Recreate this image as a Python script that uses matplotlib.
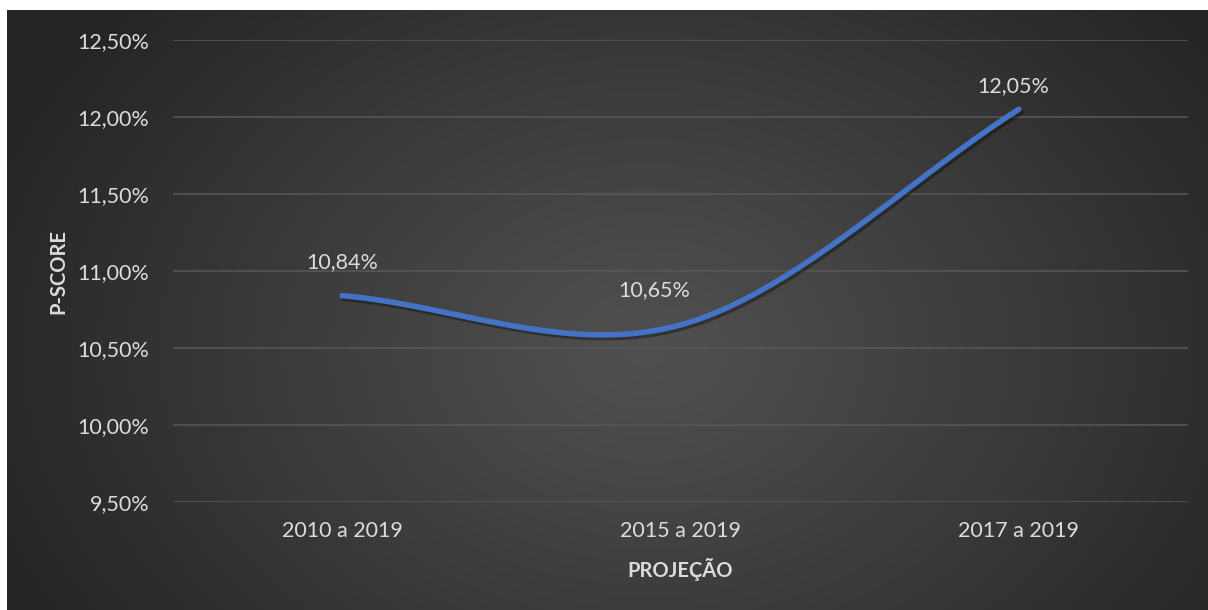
import numpy as np
import matplotlib.pyplot as plt
import matplotlib.patheffects as pe

categories = ['2010 a 2019', '2015 a 2019', '2017 a 2019']
pscore = [10.84, 10.65, 12.05]
label_offsets = [(0, 24), (-19, 25), (-4, 17)]   # points, label centre vs. marker
yticks = [9.5, 10.0, 10.5, 11.0, 11.5, 12.0, 12.5]

txt = '#dcdcdc'
plt.rcParams['font.family'] = ['Lato', 'DejaVu Sans']


def pct(v):
    return f'{v:.2f}%'.replace('.', ',')


def smooth(xs, ys, n=60):
    # cubic bezier through the points, catmull-rom style tangents
    p = np.column_stack([xs, ys]).astype(float)
    out = []
    for i in range(len(p) - 1):
        t0 = (p[i + 1] - p[i - 1]) / 2 if i > 0 else p[i + 1] - p[i]
        t1 = (p[i + 2] - p[i]) / 2 if i + 2 < len(p) else p[i + 1] - p[i]
        c1 = p[i] + t0 / 3
        c2 = p[i + 1] - t1 / 3
        t = np.linspace(0, 1, n)[:, None]
        seg = ((1 - t) ** 3) * p[i] + 3 * ((1 - t) ** 2) * t * c1 \
            + 3 * (1 - t) * t ** 2 * c2 + t ** 3 * p[i + 1]
        out.append(seg if i == 0 else seg[1:])
    out = np.vstack(out)
    return out[:, 0], out[:, 1]


fig = plt.figure(figsize=(12.08, 6.10), dpi=100, facecolor='white')

# dark radial gradient panel
bg = fig.add_axes([7 / 1208, 0, 1201 / 1208, 600 / 610])
bg.axis('off')
gx, gy = np.meshgrid(np.linspace(0, 1201, 400), np.linspace(0, 600, 200))
d = np.sqrt(((gx - 640) / 700) ** 2 + ((gy - 340) / 520) ** 2)
d = np.clip(d, 0, 1)
shade = 0x50 - (0x50 - 0x25) * d ** 1.1
img = np.dstack([shade / 255] * 3)
bg.imshow(img, aspect='auto', extent=[0, 1, 0, 1], origin='upper')
bg.set_xlim(0, 1)
bg.set_ylim(0, 1)

ax = fig.add_axes([173 / 1208, 1 - 502 / 610, 1015 / 1208, 462 / 610])
ax.set_facecolor('none')
x = np.arange(len(categories))
sx, sy = smooth(x, pscore)
ax.plot(sx, sy, color='#4472c4', lw=4, solid_capstyle='round', zorder=3,
        path_effects=[pe.SimpleLineShadow(offset=(1.5, -2), shadow_color='black', alpha=0.35),
                      pe.Normal()])

for xi, v, off in zip(x, pscore, label_offsets):
    ax.annotate(pct(v), (xi, v), xytext=off, textcoords='offset points',
                ha='center', va='center', color=txt, fontsize=15.5)

ax.set_xlim(-0.5, 2.5)
ax.set_ylim(9.5, 12.5)
ax.set_yticks(yticks)
ax.set_yticklabels([pct(v) for v in yticks])
ax.set_xticks(x)
ax.set_xticklabels(categories)
ax.tick_params(axis='y', length=0, pad=17, labelsize=15.5, labelcolor=txt)
ax.tick_params(axis='x', length=0, pad=14, labelsize=15.5, labelcolor=txt)
ax.grid(axis='y', color='#585858', lw=1.1)
ax.set_axisbelow(True)
for s in ax.spines.values():
    s.set_visible(False)

ax.text(0.5, -0.147, 'PROJEÇÃO', transform=ax.transAxes, ha='center', va='center',
        fontsize=14.5, fontweight='bold', color=txt)
ax.text(-0.113, 0.5, 'P-SCORE', transform=ax.transAxes, ha='center', va='center',
        rotation=90, fontsize=14.5, fontweight='bold', color=txt)

fig.savefig('out.png', dpi=100, facecolor='white')
